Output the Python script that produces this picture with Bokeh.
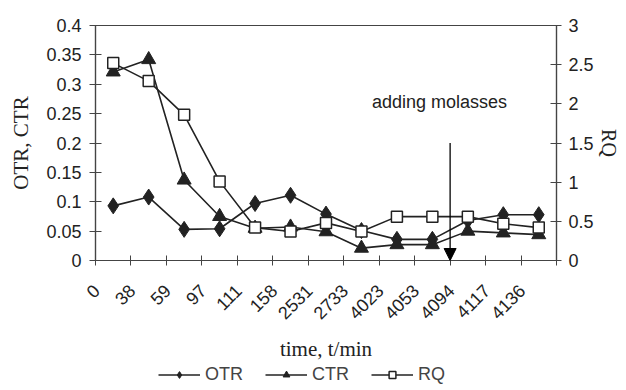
import math
from bokeh.plotting import figure
from bokeh.layouts import column
from bokeh.models import (Range1d, LinearAxis, FixedTicker, CustomJSTickFormatter,
                          Legend, LegendItem, Arrow, NormalHead, Label)
from bokeh.embed import file_html
from bokeh.resources import INLINE

# ---- data ----
times = ["0", "38", "59", "97", "111", "158", "2531", "2733", "4023", "4053", "4094", "4117", "4136"]
otr = [0.093, 0.108, 0.053, 0.054, 0.097, 0.111, 0.079, 0.051, 0.036, 0.036, 0.068, 0.078, 0.078]
ctr = [0.321, 0.342, 0.137, 0.075, 0.055, 0.057, 0.049, 0.021, 0.027, 0.027, 0.050, 0.047, 0.044]
rq = [2.52, 2.29, 1.86, 1.01, 0.42, 0.37, 0.48, 0.37, 0.56, 0.56, 0.56, 0.47, 0.42]

left_ticks = [0, 0.05, 0.1, 0.15, 0.2, 0.25, 0.3, 0.35, 0.4]
right_ticks = [0, 0.5, 1, 1.5, 2, 2.5, 3]

annot_text = "adding molasses"
arrow_x = 10          # boundary between "4053" and "4094"
arrow_top = 0.2       # on the OTR/CTR scale
annot_x, annot_y = 9.7, 0.27

# category centres on a numeric axis; rotated labels end slightly left of centre
xs = [i + 0.5 for i in range(len(times))]
label_pos = [i + 0.03 for i in range(len(times))]
bounds = list(range(len(times) + 1))

INK = "#222222"
AX = "#444444"
SANS = "Liberation Sans"
SERIF = "Liberation Serif"

p = figure(frame_width=461, frame_height=235,
           x_range=Range1d(0, len(times)), y_range=Range1d(0, 0.4),
           output_backend="svg", toolbar_location=None,
           min_border_left=95, min_border_top=25, min_border_right=0, min_border_bottom=0,
           background_fill_color="white", border_fill_color="white")
p.extra_y_ranges = {"rq": Range1d(0, 3)}
p.grid.visible = False
p.outline_line_color = AX
p.outline_line_width = 1.2

# lines + markers
p.line(xs, otr, line_color=INK, line_width=1.6)
p.scatter(xs, otr, marker="diamond", size=16, fill_color=INK, line_color=INK)
p.line(xs, ctr, line_color=INK, line_width=1.6)
p.scatter(xs, ctr, marker="triangle", size=14, fill_color=INK, line_color=INK)
p.line(xs, rq, line_color=INK, line_width=1.6, y_range_name="rq")
p.scatter(xs, rq, marker="square", size=11, fill_color="white", line_color=INK,
          line_width=1.5, y_range_name="rq")

# x axis
xa = p.xaxis[0]
xa.ticker = FixedTicker(ticks=label_pos, minor_ticks=bounds)
xa.formatter = CustomJSTickFormatter(args=dict(labels=times),
                                     code="return labels[Math.floor(tick)];")
xa.major_label_orientation = math.pi / 4
xa.major_tick_in = 0
xa.major_tick_out = 0
xa.minor_tick_in = 5
xa.minor_tick_out = 5
xa.axis_label = "time, t/min"

# left axis
ya = p.yaxis[0]
ya.ticker = FixedTicker(ticks=left_ticks)
ya.formatter = CustomJSTickFormatter(code="return tick.toFixed(2).replace(/\\.?0+$/, '');")
ya.axis_label = "OTR, CTR"
ya.major_tick_in = 6
ya.major_tick_out = 6
ya.minor_tick_in = 0
ya.minor_tick_out = 0

# right axis
ra = LinearAxis(y_range_name="rq", ticker=FixedTicker(ticks=right_ticks),
                formatter=CustomJSTickFormatter(code="return tick.toFixed(1).replace(/\\.?0+$/, '');"),
                axis_label="RQ")
ra.major_tick_in = 6
ra.major_tick_out = 5
ra.minor_tick_in = 0
ra.minor_tick_out = 0
p.add_layout(ra, "right")

for ax in (xa, ya, ra):
    ax.axis_line_color = AX
    ax.axis_line_width = 1.2
    ax.major_tick_line_color = AX
    ax.minor_tick_line_color = AX
    ax.major_label_text_font = SANS
    ax.major_label_text_font_size = "18px"
    ax.major_label_text_color = "#222222"
    ax.axis_label_text_font = SERIF
    ax.axis_label_text_font_size = "21px"
    ax.axis_label_text_font_style = "normal"
    ax.axis_label_text_color = "#222222"

ra.axis_label_text_font_size = "20px"
xa.major_label_standoff = 22
ya.major_label_standoff = 8
ra.major_label_standoff = 7
ya.axis_label_standoff = 10
ra.axis_label_standoff = 1
xa.axis_label_standoff = 9

# annotation
p.add_layout(Arrow(end=NormalHead(size=12, fill_color="black", line_color="black"),
                   x_start=arrow_x, y_start=arrow_top, x_end=arrow_x, y_end=0,
                   line_color="black", line_width=1.3))
p.add_layout(Label(x=annot_x, y=annot_y, text=annot_text, text_align="center",
                   text_baseline="middle", text_font=SANS, text_font_size="18px",
                   text_color="#222222"))

# ---- legend strip underneath (same series, plotted outside its visible range) ----
q = figure(width=620, height=24, x_range=Range1d(0, len(times)), y_range=Range1d(10, 11),
           x_axis_location=None, y_axis_location=None,
           output_backend="svg", toolbar_location=None, min_border=0,
           background_fill_color="white", border_fill_color="white")
q.grid.visible = False
q.outline_line_color = None
g1 = q.line(xs, otr, line_color=INK, line_width=1.6)
m1 = q.scatter(xs, otr, marker="diamond", size=14, fill_color=INK, line_color=INK)
g2 = q.line(xs, ctr, line_color=INK, line_width=1.6)
m2 = q.scatter(xs, ctr, marker="triangle", size=12, fill_color=INK, line_color=INK)
g3 = q.line(xs, rq, line_color=INK, line_width=1.6)
m3 = q.scatter(xs, rq, marker="square", size=10, fill_color="white", line_color=INK,
               line_width=1.5)

legend = Legend(items=[LegendItem(label="OTR", renderers=[g1, m1]),
                       LegendItem(label="CTR", renderers=[g2, m2]),
                       LegendItem(label="RQ", renderers=[g3, m3])],
                orientation="horizontal", location=(63, 3),
                border_line_color=None, background_fill_alpha=0,
                label_text_font=SANS, label_text_font_size="18px",
                label_text_line_height=1.0,
                glyph_width=42, glyph_height=17, label_height=17,
                spacing=22, label_standoff=5, padding=0, margin=0)
q.add_layout(legend, "center")

layout = column(p, q, spacing=0)
open("out.html", "w").write(file_html(layout, INLINE))
